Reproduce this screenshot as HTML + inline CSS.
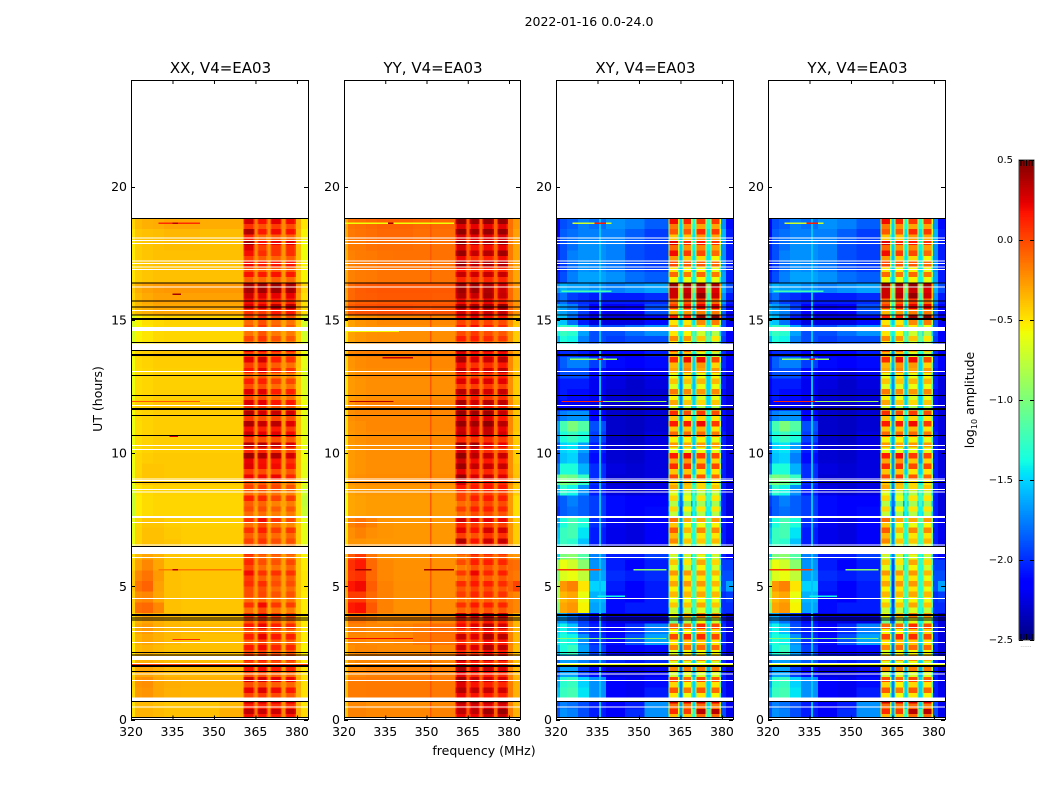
<!DOCTYPE html>
<html>
<head>
<meta charset="utf-8">
<title>2022-01-16 0.0-24.0</title>
<style>
html,body{margin:0;padding:0;background:#fff;}
svg{display:block;font-family:"DejaVu Sans","Liberation Sans",sans-serif;fill:#000;}
</style>
</head>
<body>
<svg id="chart" width="1050" height="800" viewBox="0 0 1050 800" xmlns="http://www.w3.org/2000/svg">
<rect x="0" y="0" width="1050" height="800" fill="#fff"/>
<text x="589" y="26" font-size="12.5" text-anchor="middle">2022-01-16 0.0-24.0</text>
<text x="484" y="755" font-size="12.5" text-anchor="middle">frequency (MHz)</text>
<text x="0" y="0" font-size="12.5" text-anchor="middle" transform="translate(102,399) rotate(-90)">UT (hours)</text>
<text x="0" y="0" font-size="12.5" text-anchor="middle" transform="translate(974,400) rotate(-90)">log<tspan font-size="8" dy="3">10</tspan><tspan dy="-3"> amplitude</tspan></text>
<text x="1026" y="647" font-size="6" fill="#999" text-anchor="middle">......</text>
</svg>
<script>
// Channel-group boundaries (MHz)
const freqEdges = [320,321.5,324,328,332,338,345,352,360.6,364.6,365.7,369.3,370.4,374.5,375.8,379.6,381.5,384];
// Time-row boundaries (UT hours), top to bottom
const rowEdges = [18.8,18.4,18,17.6,17.2,16.8,16.4,16,15.6,15.2,14.8,14.4,14,13.6,13.2,12.8,12.4,12,11.6,11.2,10.8,10.4,10,9.6,9.2,8.8,8.4,8,7.6,7.2,6.8,6.4,6,5.6,5.2,4.8,4.4,4,3.6,3.2,2.8,2.4,2,1.6,1.2,0.8,0.4,0];
// Channel groups that are the four bright sub-band blocks
const blockChannels = [8,10,12,14];
// log10 amplitude x 100; one row per time band, one column per channel group
const valuesXX = [
[-45,-36,-33,-32,-30,-30,-32,-32,18,-15,8,-20,14,-20,10,-32,-50],
[-50,-40,-38,-37,-35,-35,-37,-37,28,-18,6,-22,10,-22,8,-35,-55],
[-52,-42,-40,-38,-37,-37,-38,-38,30,-20,8,-24,12,-24,14,-37,-58],
[-52,-42,-40,-38,-38,-38,-38,-38,14,-22,4,-24,2,-24,4,-37,-58],
[-50,-42,-40,-38,-38,-38,-38,-38,10,-22,4,-25,6,-25,6,-37,-55],
[-50,-42,-40,-38,-38,-38,-38,-38,8,-22,6,-25,8,-25,6,-38,-55],
[-42,-32,-28,-26,-25,-25,-25,-25,40,-5,42,-8,42,-8,40,-20,-45],
[-45,-35,-31,-28,-28,-28,-28,-28,25,-10,20,-15,18,-15,18,-25,-48],
[-45,-36,-33,-30,-30,-30,-30,-30,18,-12,16,-15,26,-15,26,-25,-48],
[-65,-55,-48,-46,-44,-44,-44,-44,-5,-25,4,-28,-5,-28,-8,-40,-68],
[-68,-55,-50,-46,-45,-45,-45,-45,-8,-28,2,-30,-10,-30,-10,-42,-70],
[-66,-54,-50,-46,-45,-45,-45,-45,-4,-26,2,-30,-8,-30,-10,-42,-68],
[-55,-44,-42,-40,-40,-40,-40,-40,15,-20,14,-25,10,-25,8,-38,-60],
[-58,-46,-44,-42,-42,-42,-42,-42,14,-22,20,-25,4,-25,-2,-40,-62],
[-60,-47,-45,-43,-43,-43,-43,-43,2,-25,8,-28,-5,-28,-8,-42,-65],
[-60,-47,-45,-43,-43,-43,-43,-43,4,-25,4,-28,-6,-28,-8,-42,-65],
[-60,-47,-45,-43,-43,-43,-43,-43,10,-22,10,-26,0,-26,-2,-42,-65],
[-52,-43,-42,-40,-40,-40,-40,-40,16,-20,14,-24,6,-24,6,-38,-58],
[-58,-46,-44,-42,-42,-42,-42,-42,22,-20,14,-25,16,-25,14,-40,-62],
[-60,-47,-44,-42,-42,-42,-42,-42,24,-20,18,-25,20,-25,10,-40,-62],
[-60,-47,-44,-42,-42,-42,-42,-42,20,-22,14,-26,14,-26,10,-40,-62],
[-60,-47,-44,-42,-42,-42,-42,-42,22,-20,22,-25,18,-25,12,-40,-62],
[-58,-45,-42,-41,-41,-41,-41,-41,28,-18,24,-24,22,-24,14,-40,-60],
[-60,-45,-40,-40,-41,-41,-41,-41,16,-20,10,-25,10,-25,6,-40,-62],
[-60,-44,-40,-40,-41,-41,-41,-41,12,-20,10,-25,12,-25,2,-40,-62],
[-68,-50,-46,-44,-44,-44,-44,-44,-2,-26,0,-28,-4,-28,-8,-44,-70],
[-72,-52,-47,-45,-45,-45,-45,-45,4,-25,2,-28,-8,-28,-6,-45,-75],
[-72,-52,-47,-45,-45,-45,-45,-45,-6,-30,-6,-32,-12,-32,-10,-45,-72],
[-62,-45,-40,-40,-42,-43,-43,-43,-2,-26,10,-30,-4,-30,-10,-42,-62],
[-62,-44,-38,-38,-41,-42,-42,-42,-2,-26,4,-28,-6,-28,-4,-42,-62],
[-60,-44,-38,-38,-40,-42,-42,-42,-2,-25,2,-28,-6,-28,-6,-42,-62],
[-50,-36,-30,-34,-40,-41,-41,-41,8,-25,-4,-28,-4,-28,-8,-40,-55],
[-45,-28,-20,-30,-40,-40,-40,-40,6,-25,-6,-28,-8,-28,-4,-40,-52],
[-40,-20,-14,-26,-38,-40,-40,-40,10,-25,-2,-28,-2,-28,-2,-40,-50],
[-40,-14,-8,-28,-38,-40,-40,-40,4,-25,4,-28,-6,-28,-6,-40,-50],
[-42,-22,-20,-30,-38,-40,-40,-40,-6,-25,-4,-28,-8,-28,-8,-40,-52],
[-42,-12,-10,-20,-38,-40,-40,-40,-2,-28,10,-30,-4,-30,-6,-40,-52],
[-48,-34,-30,-33,-36,-38,-38,-38,2,-25,10,-28,0,-28,-4,-38,-52],
[-50,-30,-26,-32,-35,-36,-36,-36,6,-22,12,-26,4,-26,0,-36,-52],
[-50,-34,-30,-33,-36,-38,-38,-38,4,-25,14,-28,6,-28,4,-36,-52],
[-52,-36,-34,-36,-38,-38,-38,-38,6,-25,10,-28,2,-28,2,-38,-55],
[-50,-34,-33,-35,-37,-37,-37,-37,8,-25,10,-28,4,-28,2,-37,-52],
[-46,-30,-30,-33,-36,-36,-36,-36,8,-24,10,-26,4,-26,2,-36,-50],
[-44,-24,-22,-30,-32,-33,-33,-33,14,-20,14,-24,8,-24,6,-32,-48],
[-46,-26,-24,-30,-33,-34,-34,-34,12,-20,16,-24,10,-24,6,-33,-48],
[-50,-36,-36,-38,-40,-40,-40,-36,20,-18,18,-22,14,-22,14,-34,-50],
[-48,-34,-34,-36,-38,-38,-38,-33,24,-14,22,-20,20,-20,22,-32,-46]
];
const valuesYY = [
[-30,-14,-12,-10,-8,-8,-10,-10,38,-6,35,-8,36,-8,36,-12,-25],
[-32,-15,-14,-12,-10,-10,-12,-12,38,-6,34,-8,36,-8,36,-14,-28],
[-32,-16,-15,-13,-12,-12,-13,-13,40,-6,30,-10,32,-10,34,-15,-30],
[-34,-18,-16,-15,-14,-13,-13,-13,36,-6,24,-10,28,-10,34,-15,-30],
[-34,-18,-16,-15,-14,-14,-14,-14,30,-6,22,-10,26,-10,24,-16,-30],
[-32,-18,-16,-15,-14,-14,-14,-14,22,-6,20,-10,22,-10,22,-16,-30],
[-28,-10,-6,-5,-4,-4,-4,-5,42,-2,42,-5,38,-5,30,-10,-25],
[-30,-10,-7,-6,-5,-5,-5,-6,28,-4,22,-6,30,-6,22,-10,-25],
[-26,-6,-3,-2,-1,-1,-2,-3,36,0,34,-2,38,-2,40,-8,-24],
[-48,-28,-24,-22,-20,-20,-20,-20,10,-12,14,-14,10,-14,8,-22,-40],
[-50,-28,-25,-23,-22,-22,-22,-22,6,-14,12,-16,6,-16,2,-24,-42],
[-50,-28,-25,-23,-22,-22,-22,-22,8,-14,8,-16,4,-16,0,-24,-42],
[-42,-20,-18,-17,-17,-17,-17,-17,36,-10,28,-12,28,-12,30,-18,-34],
[-46,-24,-21,-20,-20,-20,-20,-20,32,-10,20,-12,22,-12,28,-20,-38],
[-48,-25,-22,-21,-21,-21,-21,-21,22,-12,14,-14,18,-14,24,-21,-40],
[-50,-26,-24,-22,-22,-22,-22,-22,14,-14,12,-16,14,-16,12,-22,-42],
[-50,-26,-24,-22,-22,-22,-22,-22,26,-12,26,-14,18,-14,22,-22,-42],
[-46,-24,-20,-18,-18,-19,-19,-19,32,-10,22,-14,28,-14,26,-20,-40],
[-48,-22,-20,-20,-20,-20,-20,-20,38,-8,36,-12,36,-12,26,-20,-40],
[-48,-24,-22,-20,-20,-20,-20,-20,38,-8,36,-12,40,-12,30,-20,-40],
[-50,-25,-23,-21,-21,-21,-21,-21,24,-10,20,-14,22,-14,18,-21,-42],
[-50,-26,-24,-22,-22,-22,-22,-22,38,-10,36,-12,20,-12,16,-22,-42],
[-50,-26,-24,-22,-22,-22,-22,-22,40,-10,30,-12,26,-12,26,-22,-42],
[-50,-26,-24,-22,-22,-22,-22,-22,35,-10,25,-12,24,-12,24,-22,-40],
[-50,-24,-22,-21,-21,-21,-21,-21,40,-8,24,-14,28,-14,22,-20,-38],
[-54,-28,-26,-25,-25,-25,-25,-25,8,-14,8,-16,10,-16,8,-25,-42],
[-58,-30,-28,-27,-27,-27,-27,-27,-5,-16,6,-18,8,-18,6,-26,-48],
[-58,-30,-28,-27,-27,-27,-27,-27,-4,-16,6,-18,6,-18,4,-26,-48],
[-50,-18,-14,-18,-24,-25,-25,-25,20,-14,14,-16,14,-16,12,-24,-42],
[-50,-22,-18,-22,-24,-25,-25,-25,14,-14,8,-16,18,-16,18,-24,-42],
[-48,-24,-24,-25,-25,-25,-25,-25,30,-14,10,-16,22,-16,24,-24,-42],
[-40,-5,5,-14,-24,-25,-25,-24,-5,-12,14,-14,10,-14,8,-22,-25],
[-36,8,15,-10,-20,-23,-23,-23,-8,-14,6,-16,6,-16,4,-10,-12],
[-34,5,8,-10,-20,-23,-23,-22,-2,-14,14,-16,4,-16,6,-12,-15],
[-30,16,20,-6,-18,-22,-22,-22,2,-14,8,-16,6,-16,2,-8,2],
[-32,4,4,-10,-18,-23,-23,-22,-4,-14,4,-16,2,-16,0,-15,-20],
[-30,15,18,-5,-18,-23,-23,-22,0,-14,8,-16,6,-16,4,-15,-20],
[-38,-14,-14,-18,-22,-22,-22,-20,22,-10,20,-12,26,-12,22,-18,-35],
[-40,-18,-18,-20,-20,-18,-15,-12,14,-8,20,-10,30,-10,22,-18,-35],
[-40,-20,-20,-21,-21,-20,-15,-14,24,-8,18,-10,32,-10,28,-18,-36],
[-42,-22,-20,-20,-21,-21,-21,-20,22,-8,18,-10,30,-10,26,-20,-38],
[-42,-22,-20,-20,-20,-20,-20,-20,34,-6,28,-10,26,-10,22,-20,-38],
[-40,-20,-20,-18,-18,-18,-18,-18,34,-6,24,-10,26,-10,22,-18,-36],
[-38,-16,-16,-15,-15,-15,-15,-15,36,-5,28,-8,24,-8,22,-16,-34],
[-38,-16,-16,-15,-15,-15,-15,-15,32,-5,28,-8,26,-8,24,-16,-34],
[-42,-20,-20,-22,-22,-22,-22,-20,38,-6,38,-8,34,-8,36,-18,-36],
[-40,-18,-18,-20,-20,-20,-20,-18,30,-4,30,-8,38,-8,40,-16,-34]
];
const valuesXY = [
[-215,-190,-185,-175,-180,-170,-175,-185,0,-150,-8,-135,-15,-130,-15,-170,-210],
[-215,-185,-180,-175,-175,-175,-185,-195,-20,-150,-20,-145,-5,-145,-10,-160,-205],
[-205,-190,-180,-170,-170,-175,-190,-195,0,-150,-15,-140,-10,-140,-18,-170,-205],
[-205,-190,-175,-170,-170,-175,-190,-195,0,-155,-15,-145,-20,-145,-30,-170,-205],
[-210,-195,-180,-170,-172,-178,-190,-195,-25,-150,-30,-145,-30,-145,-35,-170,-205],
[-205,-190,-175,-165,-165,-170,-180,-185,-30,-150,-35,-140,-30,-140,-35,-165,-205],
[-170,-160,-165,-165,-170,-175,-170,-165,40,-110,40,-110,40,-110,35,-160,-190],
[-190,-180,-195,-200,-205,-205,-205,-200,15,-120,20,-130,30,-130,15,-170,-205],
[-160,-165,-175,-195,-215,-220,-215,-190,-15,-140,-5,-150,5,-150,5,-185,-215],
[-150,-155,-180,-205,-225,-225,-225,-210,-10,-150,-10,-145,20,-145,25,-190,-220],
[-140,-125,-130,-165,-190,-190,-180,-170,-40,-140,-45,-120,-60,-110,-70,-190,-215],
[-160,-135,-140,-175,-190,-195,-190,-190,-35,-150,-40,-120,-55,-110,-65,-195,-215],
[-210,-200,-200,-205,-215,-215,-215,-205,-20,-170,-25,-140,-50,-130,-60,-200,-215],
[-205,-185,-175,-175,-195,-210,-215,-210,-15,-160,-5,-150,-5,-150,-25,-200,-215],
[-205,-190,-190,-190,-210,-220,-225,-220,-45,-165,-35,-150,-45,-150,-40,-205,-220],
[-215,-205,-205,-205,-220,-225,-230,-225,-50,-170,-50,-155,-45,-150,-45,-205,-225],
[-215,-205,-210,-210,-220,-228,-230,-228,-35,-170,-40,-150,-45,-150,-40,-210,-225],
[-225,-215,-220,-220,-225,-230,-232,-228,-45,-170,-55,-150,-60,-150,-55,-210,-225],
[-190,-175,-170,-170,-215,-230,-232,-228,-20,-170,-30,-140,-25,-140,-30,-210,-225],
[-165,-120,-100,-115,-190,-230,-232,-228,-15,-165,-15,-150,-10,-150,-25,-210,-225],
[-170,-135,-125,-135,-195,-230,-232,-225,-30,-160,-30,-150,-30,-150,-35,-205,-225],
[-190,-150,-145,-165,-205,-228,-230,-225,-40,-165,-45,-155,-40,-155,-40,-205,-225],
[-190,-155,-150,-175,-210,-228,-230,-225,-10,-170,-5,-165,-20,-165,-25,-205,-225],
[-175,-135,-135,-160,-200,-225,-228,-225,-15,-170,-15,-150,-25,-150,-25,-205,-225],
[-115,-100,-105,-125,-200,-228,-228,-225,-20,-170,-15,-140,-25,-140,-30,-205,-222],
[-165,-130,-140,-170,-205,-225,-228,-225,-45,-175,-55,-125,-60,-120,-55,-205,-225],
[-195,-185,-175,-185,-195,-210,-215,-215,-55,-180,-70,-130,-60,-125,-60,-205,-225],
[-200,-185,-180,-185,-195,-210,-215,-210,-55,-190,-65,-140,-60,-140,-60,-205,-225],
[-165,-135,-120,-135,-200,-220,-225,-215,-25,-165,-45,-135,-45,-120,-40,-205,-220],
[-155,-125,-120,-145,-205,-222,-225,-218,-20,-170,-50,-135,-35,-120,-35,-205,-220],
[-150,-125,-130,-155,-205,-222,-225,-218,-30,-170,-50,-135,-50,-125,-45,-205,-222],
[-150,-100,-95,-115,-175,-205,-205,-195,-55,-175,-55,-125,-45,-130,-55,-205,-215],
[-90,-60,-70,-95,-170,-205,-215,-205,-50,-190,-60,-125,-40,-130,-55,-195,-195],
[-100,-65,-60,-75,-165,-200,-205,-200,-40,-190,-40,-125,-40,-130,-50,-190,-190],
[-85,-25,-18,-50,-150,-205,-215,-205,-40,-195,-35,-125,-35,-130,-45,-190,-165],
[-85,-35,-30,-60,-160,-210,-215,-205,-45,-195,-45,-125,-40,-130,-45,-200,-195],
[-100,-30,-25,-55,-165,-210,-205,-205,-55,-190,-55,-125,-45,-130,-55,-200,-200],
[-170,-165,-180,-195,-210,-225,-225,-225,-75,-190,-50,-140,-30,-140,-40,-205,-225],
[-150,-140,-155,-190,-205,-215,-200,-175,-30,-170,-30,-150,-10,-150,-20,-200,-225],
[-145,-135,-140,-170,-200,-210,-190,-165,-25,-170,-15,-150,-15,-150,-25,-200,-225],
[-160,-135,-125,-165,-195,-220,-215,-210,-40,-180,-30,-160,-30,-160,-30,-205,-225],
[-185,-165,-165,-175,-185,-200,-205,-200,-40,-170,-40,-150,-35,-150,-45,-200,-215],
[-190,-165,-165,-195,-210,-225,-225,-220,-45,-180,-40,-160,-40,-160,-40,-205,-225],
[-165,-130,-125,-150,-170,-215,-220,-210,-25,-175,-35,-150,-25,-150,-30,-205,-222],
[-155,-125,-120,-145,-170,-215,-220,-205,-25,-175,-35,-150,-25,-150,-30,-205,-220],
[-190,-175,-180,-190,-205,-215,-205,-170,5,-165,0,-150,5,-150,0,-190,-220],
[-190,-170,-175,-190,-205,-215,-200,-170,-15,-165,-20,-130,10,-130,10,-190,-220]
];
// The YX panel reads the same as XY at this resolution
const valuesYX = valuesXY;
// Banding inside the blocks: two offsets per time row (log10 amplitude x 100)
const blockBandsXX = [10,-10,10,-15,10,-5,5,-10,10,-10,10,-15,0,0,5,-5,10,-10,5,-5,5,-5,5,-5,10,-10,10,-10,15,-10,10,-5,15,-10,10,-10,15,-15,15,-5,10,-15,15,-10,15,-5,10,-10,10,-15,5,-10,10,-10,5,-5,10,-10,10,-5,5,-5,10,-5,5,-5,10,-5,5,-5,5,-5,10,-10,5,-5,10,-10,10,-10,10,-5,5,-5,10,-10,15,-15,10,-10,10,-5,10,-5];
const blockBandsYY = [8,-12,8,-10,6,-12,8,-14,12,-12,10,-10,0,0,10,-8,5,-8,8,-8,8,-6,6,-8,6,-10,8,-12,10,-10,12,-8,10,-12,8,-12,6,-10,6,-8,10,-12,6,-10,6,-10,8,-12,4,-12,8,-6,8,-6,8,-6,10,-8,10,-10,8,-14,10,-10,8,-8,8,-10,8,-6,8,-8,8,-8,8,-10,6,-10,8,-12,8,-10,8,-12,6,-10,6,-10,5,-10,4,-10,4,-8,6,-8];
const blockBandsXY = [20,-15,15,-20,25,-10,20,-25,25,-25,20,-25,5,-10,15,-25,20,-20,25,-40,10,-10,15,-15,20,-15,25,-20,15,-15,10,-15,20,-20,15,-25,30,-20,30,-25,20,-25,15,-20,25,-20,25,-25,20,-20,15,-20,10,-25,10,-20,15,-15,15,-15,10,-20,10,-20,10,-15,15,-10,10,-15,10,-15,15,-20,15,-30,20,-25,25,-25,20,-25,15,-25,25,-25,25,-20,20,-25,25,-15,25,-20];
const blockBandsYX = blockBandsXY;
// How far the block edges fall below the block centre (log10 amplitude x 100)
const blockEdgeDropXX = -12;
const blockEdgeDropYY = -12;
const blockEdgeDropXY = -70;
const blockEdgeDropYX = -70;
// Narrow features: [startHour, endHour, startMHz, endMHz, log10 amp x 100]
const featuresXX = [
[18.6,18.65,330,345,10],[18.6,18.65,335,337,35],[15.93,15.98,335,338,40],[11.91,11.96,320,345,-5],[11.91,11.96,345,360,-45],
[10.6,10.65,334,337,25],[5.6,5.65,330,360,-15],[5.6,5.65,335,337,35],[2.98,3.03,335,345,10],[2.03,2.08,320,384,5]
];
const featuresYY = [
[0,18.8,351.3,351.9,-5],[18.6,18.65,320,360,-58],[18.6,18.65,336,338,40],[13.55,13.6,334,345,30],[11.91,11.96,322,338,38],
[14.55,14.6,320,340,-55],[5.6,5.65,324,330,40],[5.6,5.65,349,360,40],[6.3,6.35,338,346,30],[3.02,3.06,320,345,20]
];
const featuresXY = [
[0,18.8,335.5,336.2,-155],[18.6,18.65,326,340,-70],[18.6,18.65,334,338,15],[16.05,16.1,322,340,-120],[14.05,14.1,344,350,-110],
[13.5,13.55,325,342,-90],[13.5,13.55,335,337,15],[11.91,11.96,322,337,10],[11.91,11.96,337,360,-85],[5.6,5.65,320,336,5],[5.6,5.65,348,360,-95],
[3.02,3.06,320,360,-95],[2.03,2.08,320,384,-60],[6.3,6.35,344,350,-60],[4.6,4.65,335,345,-140]
];
const featuresYX = featuresXY;
// Flagged intervals in UT hours
const gapBands = [[14.73,14.58],[14.12,13.87],[7.63,7.56],[6.47,6.21],[2.38,2.23],[0.83,0.69],[0.06,0]];
const gapLines = [18.07,17.97,17.86,17.2,17.11,16.98,16.88,16.24,15.35,13.06,11.78,10.28,10.13,9.03,8.97,8.63,8.54,7.39,6.55,6.08,4.54,3.46,3.31,2.89,2.11,1.71,1.47,0.46];
const flagLines = [18.8,16.39,15.7,15.48,15.18,14.14,13.84,12.91,12.16,11.41,10.66,8.89,6.49,3.81,3.73,2.52,2.43,1.81,0.68,0.08];
const flagLinesThick = [15.03,13.68,11.65,3.93,2.01];
// Axis ticks and panels
const panelTitles = ['XX, V4=EA03','YY, V4=EA03','XY, V4=EA03','YX, V4=EA03'];
const panelNames = ['xx','yy','xy','yx'];
const xTickValues = [320,335,350,365,380];
const yTickValues = [0,5,10,15,20];
const colorbarTicks = [0.5,0,-0.5,-1,-1.5,-2,-2.5];
const colorbarMinorTicks = [0.47,0.44,0.41,0.38,0.35,-2.35,-2.38,-2.41,-2.44,-2.47];

const panelValues = [valuesXX,valuesYY,valuesXY,valuesYX];
const panelFeatures = [featuresXX,featuresYY,featuresXY,featuresYX];
const panelBands = [blockBandsXX,blockBandsYY,blockBandsXY,blockBandsYX];
const panelEdgeDrops = [blockEdgeDropXX,blockEdgeDropYY,blockEdgeDropXY,blockEdgeDropYX];
const panelLeft = [131,344,556,768];
const panelWidths = [177,176,177,177];
const plotTop = 80, plotBottom = 719.5;
const NS = 'http://www.w3.org/2000/svg';
const svg = document.getElementById('chart');

function xScale(p, mhz){ return panelLeft[p] + (mhz - 320) * panelWidths[p] / 64; }
function yScale(hour){ return plotBottom - (plotBottom - plotTop) * hour / 24; }
function ramp(n, pts){
  for (let i = 1; i < pts.length; i++) {
    if (n <= pts[i][0]) {
      return pts[i-1][1] + (pts[i][1]-pts[i-1][1]) * (n-pts[i-1][0]) / (pts[i][0]-pts[i-1][0]);
    }
  }
  return pts[pts.length-1][1];
}
function jet(v){
  const n = Math.max(0, Math.min(1, (v + 2.5) / 3));
  const r = ramp(n, [[0,0],[0.35,0],[0.66,1],[0.89,1],[1,0.5]]);
  const g = ramp(n, [[0,0],[0.125,0],[0.375,1],[0.64,1],[0.91,0],[1,0]]);
  const b = ramp(n, [[0,0.5],[0.11,1],[0.34,1],[0.65,0],[1,0]]);
  return 'rgb(' + Math.round(r*255) + ',' + Math.round(g*255) + ',' + Math.round(b*255) + ')';
}
function makeRect(parent, x, y, w, h, fill){
  const el = document.createElementNS(NS, 'rect');
  el.setAttribute('x', x);
  el.setAttribute('y', y);
  el.setAttribute('width', w);
  el.setAttribute('height', h);
  el.setAttribute('fill', fill);
  el.setAttribute('shape-rendering', 'crispEdges');
  parent.appendChild(el);
  return el;
}
function makeLine(parent, x1, y1, x2, y2){
  const el = document.createElementNS(NS, 'line');
  el.setAttribute('x1', x1);
  el.setAttribute('y1', y1);
  el.setAttribute('x2', x2);
  el.setAttribute('y2', y2);
  el.setAttribute('stroke', '#000');
  el.setAttribute('stroke-width', '1');
  parent.appendChild(el);
  return el;
}
function makeText(parent, x, y, size, anchor, str){
  const el = document.createElementNS(NS, 'text');
  el.setAttribute('x', x);
  el.setAttribute('y', y);
  el.setAttribute('font-size', size);
  el.setAttribute('text-anchor', anchor);
  el.textContent = str;
  parent.appendChild(el);
  return el;
}

panelValues.forEach(function(values, p){
  const left = panelLeft[p];
  const width = panelWidths[p];
  const bands = panelBands[p];
  const drop = panelEdgeDrops[p];
  const g = document.createElementNS(NS, 'g');
  
  
  svg.appendChild(g);

  values.forEach(function(row, r){
    const y0 = yScale(rowEdges[r]);
    const y1 = yScale(rowEdges[r+1]);
    const ym = (y0 + y1) / 2;
    row.forEach(function(val, c){
      const x0 = xScale(p, freqEdges[c]);
      const x1 = xScale(p, freqEdges[c+1]);
      if (blockChannels.indexOf(c) < 0) {
        const cell = makeRect(g, x0, y0, x1-x0, y1-y0, jet(val/100));
        
        
        return;
      }
      const edge = (x1 - x0) * 0.12;
      [0,1].forEach(function(s){
        const top = s === 0 ? y0 : ym;
        const h = (y1 - y0) / 2;
        const v = val + bands[2*r + s];
        const mid = makeRect(g, x0, top, x1-x0, h, jet(v/100));
        
        
        const a = makeRect(g, x0, top, edge, h, jet((v+drop)/100));
        
        
        const b = makeRect(g, x1-edge, top, edge, h, jet((v+drop)/100));
        
        
      });
    });
  });
  panelFeatures[p].forEach(function(f){
    const x0 = xScale(p, f[2]);
    const x1 = xScale(p, f[3]);
    const y0 = yScale(f[1]);
    const y1 = yScale(f[0]);
    const mark = makeRect(g, x0, y0, x1-x0, Math.max(1, y1-y0), jet(f[4]/100));
    
    
  });
  gapBands.forEach(function(b){
    const gap = makeRect(g, left, yScale(b[0]), width, yScale(b[1])-yScale(b[0]), '#fff');
    
    
  });
  gapLines.forEach(function(h){
    const gap = makeRect(g, left, yScale(h)-0.5, width, 1, '#fff');
    
    
  });
  flagLines.forEach(function(h){
    const flag = makeRect(g, left, yScale(h)-0.5, width, 1, '#000');
    
    
  });
  flagLinesThick.forEach(function(h){
    const flag = makeRect(g, left, yScale(h)-1, width, 2, '#000');
    
    
  });

  const frame = document.createElementNS(NS, 'rect');
  
  
  frame.setAttribute('x', left + 0.5);
  frame.setAttribute('y', plotTop + 0.5);
  frame.setAttribute('width', width);
  frame.setAttribute('height', plotBottom - plotTop - 0.5);
  frame.setAttribute('fill', 'none');
  frame.setAttribute('stroke', '#000');
  g.appendChild(frame);

  xTickValues.forEach(function(t){
    const x = xScale(p, t) + 0.5;
    const tickB = makeLine(g, x, plotBottom, x, plotBottom-4);
    
    
    const tickT = makeLine(g, x, plotTop, x, plotTop+4);
    
    
    const label = makeText(g, xScale(p, t), 736, 12.5, 'middle', String(t));
    
    
  });
  yTickValues.forEach(function(t){
    const y = Math.round(yScale(t)) + 0.5;
    const tickL = makeLine(g, left, y, left+4, y);
    
    
    const tickR = makeLine(g, left+width, y, left+width-4, y);
    
    
    const label = makeText(g, left-4, yScale(t)+4.5, 12.5, 'end', String(t));
    
    
  });
  const title = makeText(g, left + width/2 + 1, 73, 15, 'middle', panelTitles[p]);
  
  
});

// Colorbar
const cbLeft = 1019, cbWidth = 15, cbTop = 160, cbBottom = 640;
function cbY(v){ return cbBottom - (v + 2.5) / 3 * (cbBottom - cbTop); }
const cb = document.createElementNS(NS, 'g');


svg.appendChild(cb);
for (let i = 0; i < 256; i++) {
  const v0 = -2.5 + 3 * i / 256;
  const v1 = -2.5 + 3 * (i + 1) / 256;
  const step = makeRect(cb, cbLeft, cbY(v1), cbWidth, cbY(v0) - cbY(v1) + 0.5, jet((v0 + v1) / 2));
  
  
}
const cbFrame = document.createElementNS(NS, 'rect');


cbFrame.setAttribute('x', cbLeft);
cbFrame.setAttribute('y', cbTop);
cbFrame.setAttribute('width', cbWidth);
cbFrame.setAttribute('height', cbBottom - cbTop);
cbFrame.setAttribute('fill', 'none');
cbFrame.setAttribute('stroke', '#444');
cbFrame.setAttribute('stroke-width', '1');
cb.appendChild(cbFrame);
colorbarTicks.forEach(function(t){
  const y = Math.round(cbY(t)) + 0.5;
  const a = makeLine(cb, cbLeft, y, cbLeft+4, y);
  
  
  const b = makeLine(cb, cbLeft+cbWidth, y, cbLeft+cbWidth-4, y);
  
  
  const str = (t < 0 ? '\u2212' : '') + Math.abs(t).toFixed(1);
  const label = makeText(cb, 1013, cbY(t) + 3, 10, 'end', str);
  
  
});
colorbarMinorTicks.forEach(function(t, i){
  const atTop = t > 0;
  const x = cbLeft + 2 + (i % 5) * 2.8;
  const m = makeLine(cb, x, atTop ? cbTop : cbBottom, x, atTop ? cbTop + 6 : cbBottom - 6);
  
  
});
</script>
</body>
</html>
